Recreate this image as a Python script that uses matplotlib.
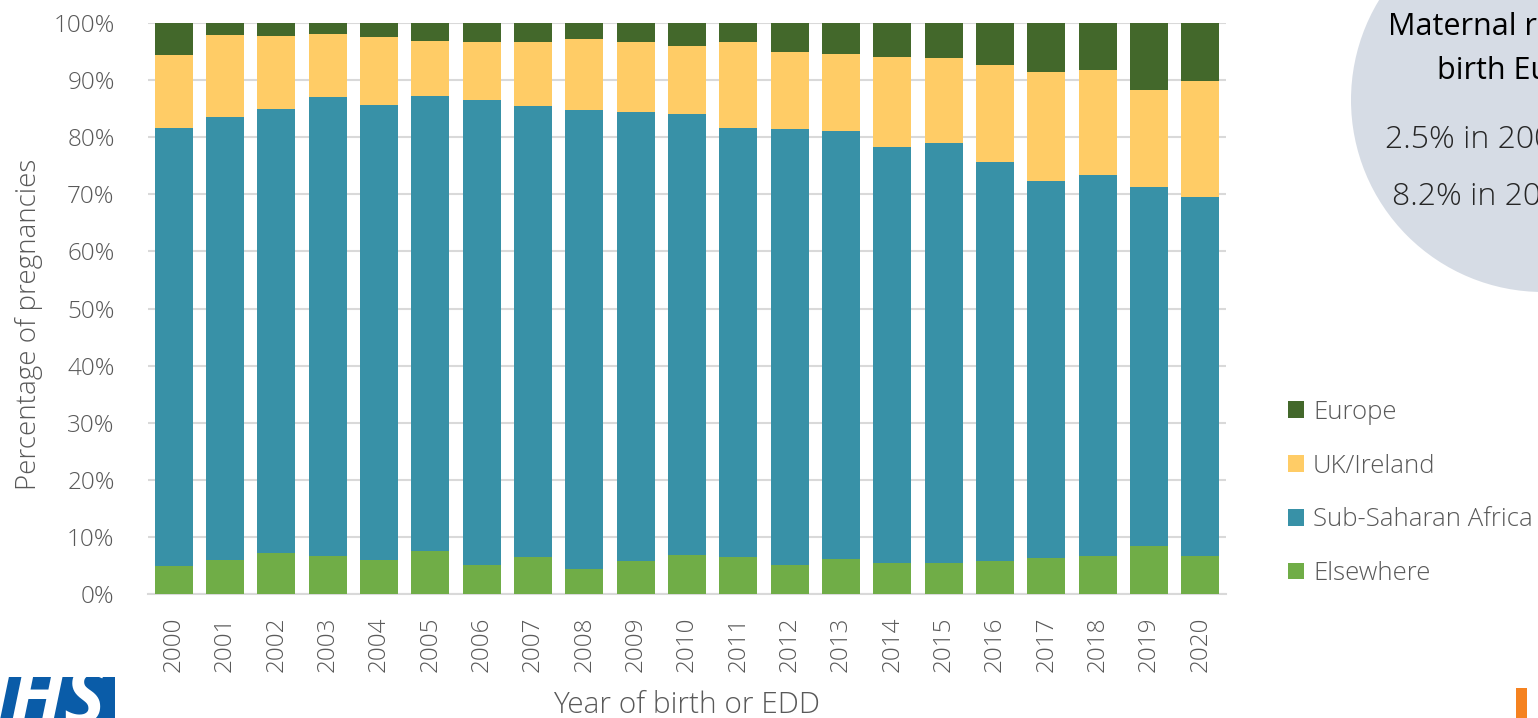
import matplotlib.pyplot as plt
import matplotlib.patches as mpatches
import numpy as np

plt.rcParams['font.family'] = ['Open Sans', 'DejaVu Sans']

# shares of pregnancies by maternal region of birth (%)
years = [str(y) for y in range(2000, 2021)]
elsewhere = [4.9, 5.9, 7.1, 6.6, 5.9, 7.5, 5.1, 6.4, 4.4, 5.8, 6.8,
             6.4, 5.1, 6.1, 5.4, 5.4, 5.8, 6.3, 6.6, 8.4, 6.6]
sub_saharan = [76.7, 77.7, 77.8, 80.5, 79.8, 79.8, 81.5, 79.1, 80.4, 78.6, 77.3,
               75.2, 76.3, 75.0, 72.9, 73.6, 69.9, 66.1, 66.7, 62.9, 62.9]
uk_ireland = [12.8, 14.3, 12.9, 11.0, 11.8, 9.5, 10.1, 11.1, 12.4, 12.3, 11.9,
              15.0, 13.6, 13.4, 15.7, 14.9, 16.9, 19.0, 18.4, 16.9, 20.3]
europe = [5.6, 2.1, 2.2, 1.9, 2.5, 3.2, 3.3, 3.4, 2.8, 3.3, 4.0,
          3.4, 5.0, 5.5, 6.0, 6.1, 7.4, 8.6, 8.3, 11.8, 10.2]

series = [("Elsewhere", elsewhere, "#70ad47"),
          ("Sub-Saharan Africa", sub_saharan, "#3891a7"),
          ("UK/Ireland", uk_ireland, "#ffcc66"),
          ("Europe", europe, "#43682b")]

grey = "#595959"
W, H = 1538, 718
fig = plt.figure(figsize=(W / 100, H / 100), dpi=100)

# background circle with the summary text (cut off by the figure edge)
circ = mpatches.Ellipse((1543 / W, 1 - 100 / H), 2 * 192 / W, 2 * 192 / H,
                        transform=fig.transFigure, facecolor="#d6dce5",
                        edgecolor="none", zorder=0)
fig.patches.append(circ)
fig.text(1388 / W, 1 - 27 / H, "Maternal region of", fontsize=22,
         color="black", va="center", ha="left")
fig.text(1437 / W, 1 - 71 / H, "birth Europe", fontsize=22,
         color="black", va="center", ha="left")
fig.text(1385 / W, 1 - 140 / H, "2.5% in 2000", fontsize=23,
         color="#262626", va="center", ha="left", fontweight="light")
fig.text(1392 / W, 1 - 197 / H, "8.2% in 2020", fontsize=23,
         color="#262626", va="center", ha="left", fontweight="light")

ax = fig.add_axes([148 / W, 1 - 594 / H, (1226 - 148) / W, (594 - 23) / H])
x = np.arange(len(years))
bottom = np.zeros(len(years))
handles = []
for name, vals, col in series:
    b = ax.bar(x, vals, 0.74, bottom=bottom, color=col, label=name, zorder=3)
    bottom += np.array(vals)
    handles.append(b)

ax.set_xlim(-0.5, len(years) - 0.5)
ax.set_ylim(0, 100)
ax.set_yticks(np.arange(0, 101, 10))
ax.set_yticklabels([f"{v}%" for v in range(0, 101, 10)])
ax.set_xticks(x)
ax.set_xticklabels(years, rotation=90)
ax.tick_params(axis="both", length=0, labelsize=17.5, labelcolor=grey)
ax.tick_params(axis="x", pad=16)
ax.tick_params(axis="y", pad=24)
for lab in ax.get_xticklabels() + ax.get_yticklabels():
    lab.set_fontweight("light")
ax.grid(axis="y", color="#d9d9d9", linewidth=1.5, zorder=0)
for s in ["top", "right", "left"]:
    ax.spines[s].set_visible(False)
ax.spines["bottom"].set_color("#d9d9d9")
ax.spines["bottom"].set_linewidth(1.5)

ax.set_ylabel("Percentage of pregnancies", fontsize=20, color=grey,
              fontweight="light")
ax.yaxis.set_label_coords(-0.097, 0.473)
ax.set_xlabel("Year of birth or EDD", fontsize=21.5, color=grey,
              fontweight="light")
ax.xaxis.label.set_va("center")
ax.xaxis.set_label_coords(0.5, -0.194)

leg = fig.legend(handles[::-1], [s[0] for s in series][::-1],
                 loc="center left", bbox_to_anchor=(1265 / W, 1 - 493 / H),
                 frameon=False, fontsize=18.5, handlelength=0.62, handleheight=0.62,
                 handletextpad=0.35, labelspacing=1.12, labelcolor=grey)
for t in leg.get_texts():
    t.set_fontweight("light")

# logo fragment bottom-left and orange mark bottom-right
fig.patches.append(mpatches.Rectangle((0, 0), 115 / W, 41 / H,
                                      transform=fig.transFigure,
                                      facecolor="#0a5ca8", edgecolor="none"))
fig.text(106 / W, -24 / H, "NHS", fontsize=56, color="white",
         fontweight="bold", fontstyle="italic", ha="right", va="bottom")
fig.patches.append(mpatches.Rectangle((1516 / W, 0), 11 / W, 30 / H,
                                      transform=fig.transFigure,
                                      facecolor="#f58220", edgecolor="none"))

plt.savefig("out.png", dpi=100)
